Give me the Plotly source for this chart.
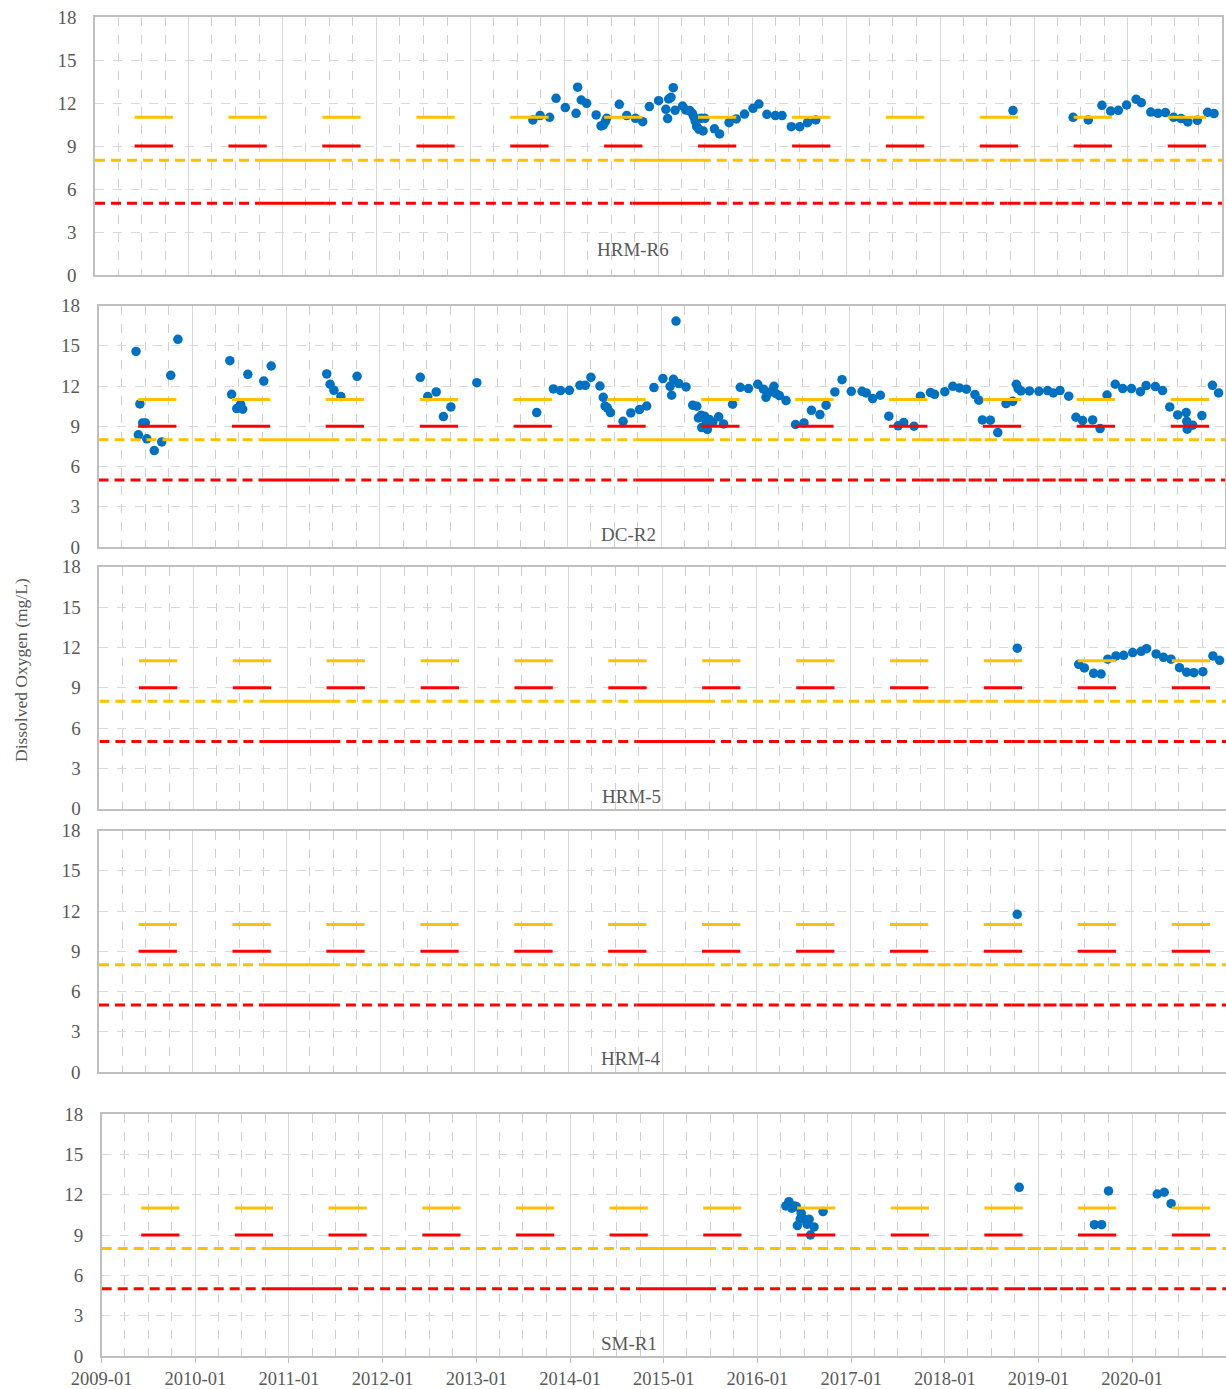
import plotly.graph_objects as go

W, H = 1226, 1389

# ---------------------------------------------------------------- data
stations = ["HRM-R6", "DC-R2", "HRM-5", "HRM-4", "SM-R1"]

hrm_r6_dates = [
    "2013-08-31", "2013-09-28", "2013-11-04", "2013-11-29", "2014-01-04", "2014-02-15",
    "2014-02-21", "2014-03-07", "2014-03-28", "2014-05-04", "2014-05-23", "2014-06-01",
    "2014-06-09", "2014-06-14", "2014-08-02", "2014-08-31", "2014-10-04", "2014-11-01",
    "2014-11-27", "2015-01-02", "2015-01-30", "2015-02-06", "2015-02-10", "2015-02-19",
    "2015-02-28", "2015-03-07", "2015-04-05", "2015-04-18", "2015-05-03", "2015-05-13",
    "2015-05-18", "2015-05-24", "2015-05-30", "2015-06-08", "2015-06-15", "2015-06-24",
    "2015-07-01", "2015-08-07", "2015-08-27", "2015-10-03", "2015-10-31", "2015-12-02",
    "2016-01-04", "2016-01-27", "2016-02-27", "2016-03-31", "2016-04-26", "2016-06-01",
    "2016-07-04", "2016-08-03", "2016-09-04",
    "2018-10-11",
    "2019-06-02", "2019-07-31", "2019-09-22", "2019-10-26", "2019-11-25", "2019-12-27",
    "2020-02-02", "2020-02-22", "2020-03-30", "2020-04-27", "2020-05-26", "2020-06-27",
    "2020-07-26", "2020-08-21", "2020-09-27", "2020-11-06", "2020-12-01",
]
hrm_r6_do = [
    10.82, 11.12, 11.0, 12.33, 11.68, 11.28,
    13.1, 12.21, 11.98, 11.17, 10.4, 10.47,
    10.7, 10.93, 11.91, 11.12, 10.93, 10.7,
    11.75, 12.16, 11.56, 10.91, 12.28, 12.4,
    13.07, 11.49, 11.79, 11.51, 11.47, 11.28,
    11.05, 10.75, 10.35, 10.16, 10.93, 10.05,
    10.93, 10.2, 9.84, 10.63, 10.89, 11.23,
    11.63, 11.93, 11.21, 11.12, 11.12, 10.35,
    10.35, 10.63, 10.82,
    11.47,
    11.0, 10.82, 11.84, 11.44, 11.49, 11.86,
    12.26, 12.02, 11.37, 11.28, 11.33, 11.0,
    10.91, 10.68, 10.79, 11.35, 11.26,
]

dc_r2_dates = [
    "2009-05-27", "2009-06-05", "2009-06-11", "2009-06-22", "2009-07-02", "2009-07-08",
    "2009-08-06", "2009-09-04", "2009-10-09", "2009-11-06",
    "2010-05-27", "2010-06-03", "2010-06-23", "2010-07-08", "2010-07-16", "2010-08-05",
    "2010-10-06", "2010-11-04",
    "2011-06-08", "2011-06-21", "2011-07-06", "2011-08-02", "2011-10-04",
    "2012-06-06", "2012-07-05", "2012-08-07", "2012-09-04", "2012-10-03",
    "2013-01-12", "2013-09-02", "2013-11-06", "2013-12-04",
    "2014-01-07", "2014-02-17", "2014-03-10", "2014-04-01", "2014-05-06", "2014-05-19",
    "2014-05-26", "2014-06-04", "2014-06-16", "2014-08-04", "2014-09-03", "2014-10-07",
    "2014-11-04", "2014-12-02",
    "2015-01-06", "2015-02-03", "2015-02-09", "2015-02-16", "2015-02-26", "2015-03-09",
    "2015-04-06", "2015-05-02", "2015-05-18", "2015-05-24", "2015-06-04", "2015-06-06",
    "2015-06-17", "2015-06-23", "2015-06-28", "2015-07-06", "2015-07-19", "2015-08-11",
    "2015-08-30", "2015-10-04", "2015-11-03", "2015-12-05",
    "2016-01-10", "2016-02-01", "2016-02-11", "2016-02-28", "2016-03-13", "2016-03-20",
    "2016-04-03", "2016-04-29", "2016-06-05", "2016-07-08", "2016-08-06", "2016-09-08",
    "2016-10-02", "2016-11-05", "2016-12-03",
    "2017-01-08", "2017-02-19", "2017-03-07", "2017-04-01", "2017-05-01", "2017-06-03",
    "2017-07-09", "2017-07-31", "2017-09-09", "2017-10-04", "2017-11-12", "2017-11-28",
    "2018-01-07", "2018-02-07", "2018-03-05", "2018-04-01", "2018-05-04", "2018-05-19",
    "2018-06-02", "2018-07-03", "2018-08-01", "2018-09-02", "2018-09-28", "2018-10-12",
    "2018-10-19", "2018-10-30", "2018-12-02",
    "2019-01-08", "2019-02-11", "2019-03-05", "2019-03-31", "2019-05-04", "2019-06-01",
    "2019-06-27", "2019-08-05", "2019-09-03", "2019-09-30", "2019-11-01", "2019-11-30",
    "2020-01-03", "2020-02-07", "2020-02-29", "2020-04-05", "2020-05-03", "2020-05-31",
    "2020-07-01", "2020-08-03", "2020-08-05", "2020-08-07", "2020-08-28", "2020-10-03",
    "2020-11-13", "2020-12-07",
]
dc_r2_do = [
    14.58, 8.36, 10.66, 9.25, 9.25, 8.06,
    7.19, 7.83, 12.8, 15.48,
    13.89, 11.38, 10.32, 10.64, 10.27, 12.87,
    12.37, 13.49,
    12.9, 12.13, 11.68, 11.21, 12.72,
    12.65, 11.21, 11.56, 9.72, 10.44,
    12.25, 10.02, 11.78, 11.66,
    11.68, 12.05, 12.05, 12.65, 12.0, 11.16,
    10.51, 10.37, 10.02, 9.37, 9.99, 10.24,
    10.51, 11.88,
    12.55, 11.98, 11.31, 12.5, 16.84, 12.18,
    11.93, 10.57, 10.49, 9.62, 9.82, 8.9,
    9.75, 9.4, 8.76, 9.5, 9.28, 9.7,
    9.17, 10.64, 11.9, 11.81,
    12.13, 11.76, 11.16, 11.56, 11.98, 11.44,
    11.29, 10.91, 9.13, 9.25, 10.19, 9.87,
    10.57, 11.56, 12.47,
    11.6, 11.6, 11.48, 11.06, 11.31, 9.75,
    9.03, 9.28, 9.0, 11.24, 11.51, 11.38,
    11.58, 11.98, 11.85, 11.76, 11.36, 10.94,
    9.47, 9.45, 8.53, 10.69, 10.86, 12.13,
    11.81, 11.63, 11.63,
    11.6, 11.66, 11.48, 11.66, 11.24, 9.67,
    9.42, 9.47, 8.83, 11.33, 12.13, 11.81,
    11.81, 11.58, 12.03, 11.96, 11.66, 10.44,
    9.84, 10.02, 9.37, 8.78, 9.08, 9.8,
    12.05, 11.48,
]

hrm_5_dates = [
    "2018-10-12",
    "2019-06-08", "2019-06-30", "2019-08-05", "2019-09-03", "2019-09-29", "2019-10-31",
    "2019-11-30", "2020-01-04", "2020-02-06", "2020-02-27", "2020-04-04", "2020-05-03",
    "2020-06-01", "2020-07-04", "2020-08-01", "2020-08-29", "2020-10-03", "2020-11-11",
    "2020-12-07",
]
hrm_5_do = [
    11.94,
    10.74, 10.47, 10.07, 10.02, 11.12, 11.36,
    11.41, 11.61, 11.71, 11.9, 11.51, 11.26,
    11.12, 10.49, 10.15, 10.12, 10.19, 11.36,
    11.04,
]

hrm_4_dates = ["2018-10-12"]
hrm_4_do = [11.75]

sm_r1_dates = [
    "2016-04-21", "2016-05-03", "2016-05-14", "2016-05-25", "2016-06-01", "2016-06-05",
    "2016-06-16", "2016-06-20", "2016-07-01", "2016-07-13", "2016-07-21", "2016-07-26",
    "2016-08-09", "2016-09-13",
    "2018-10-18",
    "2019-08-07", "2019-09-04", "2019-10-01",
    "2020-04-08", "2020-05-05", "2020-06-01",
]
sm_r1_do = [
    11.16, 11.48, 10.99, 11.16, 11.11, 9.7,
    10.19, 10.62, 10.17, 9.8, 10.17, 9.0,
    9.6, 10.74,
    12.55,
    9.77, 9.77, 12.28,
    12.05, 12.18, 11.33,
]

station_dates = [hrm_r6_dates, dc_r2_dates, hrm_5_dates, hrm_4_dates, sm_r1_dates]
station_do = [hrm_r6_do, dc_r2_do, hrm_5_do, hrm_4_do, sm_r1_do]

# Spawning-season criteria (11 mg/L water column, 9 mg/L intergravel)
season_starts = ["%d-06-04" % y for y in range(2009, 2021)]
season_ends = ["%d-10-31" % y for y in range(2009, 2021)]
spawn_col_crit = 11
spawn_grav_crit = 9

# Year-round criteria (8 mg/L and 5 mg/L minimum)
cold_crit = 8
min_crit = 5
period_start, period_end = "2009-01-01", "2021-01-01"
# stretches of the year-round criteria lines drawn solid / finely dashed
solid_spans = [("2010-10-03", "2011-06-18"), ("2014-09-22", "2015-06-15")]
fine_spans = [("2017-10-05", "2018-06-20"), ("2018-09-20", "2019-06-05")]

year_ticks = ["%d-01-01" % y for y in range(2009, 2021)]
year_labels = ["%d-01" % y for y in range(2009, 2021)]
y_ticks = [0, 3, 6, 9, 12, 15, 18]

# ---------------------------------------------------------------- layout
# plot-area boxes in pixels: (left, top, right, bottom) and station-label centres
boxes = [
    (95.0, 17.0, 1222.0, 275.0),
    (98.5, 305.5, 1225.0, 547.0),
    (99.4, 566.7, 1226.0, 808.7),
    (99.0, 830.5, 1226.0, 1072.0),
    (101.7, 1114.0, 1226.0, 1356.0),
]
label_pos = [(633, 249), (628, 534), (631, 796), (631, 1058), (629, 1343)]

YELLOW = "#FFC000"
RED = "#FF0000"
BLUE = "#0070C0"
TEXT = "#595959"
FONT = "Liberation Serif"


def fx(px):
    return px / W


def fy(py):
    return 1 - py / H


def join_segments(spans, value):
    xs, ys = [], []
    for s, e in spans:
        xs += [s, e, None]
        ys += [value, value, None]
    return xs, ys


def dashed_spans():
    special = sorted(solid_spans + fine_spans)
    spans, cur = [], period_start
    for s, e in special:
        spans.append((cur, s))
        cur = e
    spans.append((cur, period_end))
    return spans


fig = go.Figure()
layout = dict(
    width=W, height=H, margin=dict(l=0, r=0, t=0, b=0, autoexpand=False),
    paper_bgcolor="white", plot_bgcolor="white", showlegend=False,
    font=dict(family=FONT, color=TEXT, size=17),
    annotations=[],
)

season_spans = list(zip(season_starts, season_ends))

for i, name in enumerate(stations):
    n = "" if i == 0 else str(i + 1)
    xa, ya = "x" + n, "y" + n
    left, top, right, bottom = boxes[i]
    last = i == len(stations) - 1

    fig.add_trace(go.Scatter(
        x=station_dates[i], y=station_do[i], mode="markers", xaxis=xa, yaxis=ya,
        marker=dict(color=BLUE, size=9.5, line=dict(width=0)), name=name,
    ))

    for val, col in ((spawn_col_crit, YELLOW), (spawn_grav_crit, RED)):
        sx, sy = join_segments(season_spans, val)
        fig.add_trace(go.Scatter(x=sx, y=sy, mode="lines", xaxis=xa, yaxis=ya,
                                 line=dict(color=col, width=3), hoverinfo="skip"))

    for val, col in ((cold_crit, YELLOW), (min_crit, RED)):
        for spans, dash in ((dashed_spans(), "10px,6px"),
                            (fine_spans, "13px,3px"),
                            (solid_spans, "solid")):
            sx, sy = join_segments(spans, val)
            fig.add_trace(go.Scatter(x=sx, y=sy, mode="lines", xaxis=xa, yaxis=ya,
                                     line=dict(color=col, width=3, dash=dash),
                                     hoverinfo="skip"))

    layout["xaxis" + n] = dict(
        domain=[fx(left), fx(right)], anchor=ya, type="date", automargin=False,
        range=[period_start, period_end],
        tickmode="array", tickvals=year_ticks, ticktext=year_labels,
        showticklabels=last, ticks="outside" if last else "", ticklen=5,
        tickcolor="#BFBFBF", tickfont=dict(family=FONT, size=18.5, color=TEXT),
        showgrid=True, gridcolor="#D9D9D9", gridwidth=1,
        minor=dict(tick0=period_start, dtick="M3", showgrid=True,
                   gridcolor="#CFCFCF", griddash="dash", gridwidth=1, ticks=""),
        showline=True, linecolor="#BFBFBF", linewidth=1.5, mirror=True,
        zeroline=False, fixedrange=True,
    )
    layout["yaxis" + n] = dict(
        domain=[fy(bottom), fy(top)], anchor=xa, range=[0, 18], automargin=False,
        tickmode="array", tickvals=y_ticks, ticks="",
        tickfont=dict(family=FONT, size=19, color=TEXT), ticklabelstandoff=13,
        showgrid=True, gridcolor="#D9D9D9", griddash="dash", gridwidth=1,
        showline=True, linecolor="#BFBFBF", linewidth=1.5, mirror=True,
        zeroline=False, fixedrange=True,
    )
    lx, ly = label_pos[i]
    layout["annotations"].append(dict(
        text=name, xref="paper", yref="paper", x=fx(lx), y=fy(ly),
        xanchor="center", yanchor="middle", showarrow=False,
        font=dict(family=FONT, size=19, color=TEXT),
    ))

layout["annotations"].append(dict(
    text="Dissolved Oxygen (mg/L)", xref="paper", yref="paper",
    x=fx(21), y=fy(670), xanchor="center", yanchor="middle",
    textangle=-90, showarrow=False, font=dict(family=FONT, size=17.5, color=TEXT),
))

fig.update_layout(**layout)
fig.write_html("out.html")
